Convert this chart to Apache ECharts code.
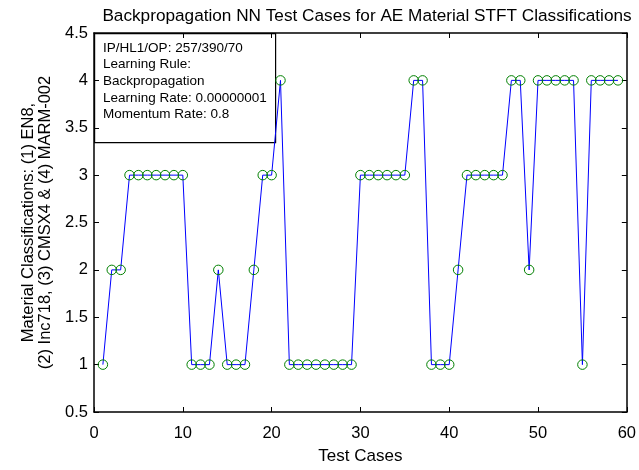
<!DOCTYPE html>
<html>
<head>
<meta charset="utf-8">
<script src="https://cdn.jsdelivr.net/npm/echarts@6/dist/echarts.min.js"></script>
<style>html,body{margin:0;padding:0;background:#fff}#c{width:639px;height:470px}</style>
</head>
<body>
<div id="c"></div>
<script>
const testCases = [1,2,3,4,5,6,7,8,9,10,11,12,13,14,15,16,17,18,19,20,21,22,23,24,25,26,27,28,29,30,31,32,33,34,35,36,37,38,39,40,41,42,43,44,45,46,47,48,49,50,51,52,53,54,55,56,57,58,59];
const classes = [1,2,2,3,3,3,3,3,3,3,1,1,1,2,1,1,1,2,3,3,4,1,1,1,1,1,1,1,1,3,3,3,3,3,3,4,4,1,1,1,2,3,3,3,3,3,4,4,2,4,4,4,4,4,1,4,4,4,4];
const xTicks = [0,10,20,30,40,50,60];
const yTicks = [0.5,1,1.5,2,2.5,3,3.5,4,4.5];
const titleText = 'Backpropagation NN Test Cases for AE Material STFT Classifications';
const xLabel = 'Test Cases';
const yLabel = 'Material Classifications: (1) EN8,\n(2) Inc718, (3) CMSX4 & (4) MARM-002';
const infoLines = ['IP/HL1/OP: 257/390/70','Learning Rule:','Backpropagation','Learning Rate: 0.00000001','Momentum Rate: 0.8'];

const FONT = 'Liberation Sans, Arial, sans-serif';
const chart = echarts.init(document.getElementById('c'), null, {renderer:'canvas'});
const axisLine = {show:true, onZero:false, lineStyle:{color:'#000', width:1.5}};
const tickIn = {show:true, inside:true, length:5, lineStyle:{color:'#000', width:1}};
const data = testCases.map((x,i)=>[x, classes[i]]);
chart.setOption({
  animation:false,
  backgroundColor:'#fff',
  title:{text:titleText, left:362, top:3, textAlign:'center',
    textStyle:{fontFamily:FONT, fontSize:17.2, fontWeight:'normal', color:'#000'}},
  grid:{left:94, right:9, top:33, bottom:53, containLabel:false},
  xAxis:[{type:'value', min:0, max:60, interval:10, position:'bottom',
      name:xLabel, nameLocation:'middle', nameGap:36,
      nameTextStyle:{fontFamily:FONT, fontSize:17, color:'#000'},
      axisLine:axisLine, axisTick:tickIn, splitLine:{show:false},
      axisLabel:{fontFamily:FONT, fontSize:16.5, color:'#000', margin:13,
        formatter:v=>xTicks.includes(v)?String(v):''}},
    {type:'value', min:0, max:60, interval:10, position:'top',
      axisLine:axisLine, axisTick:tickIn, axisLabel:{show:false}, splitLine:{show:false}}],
  yAxis:[{type:'value', min:0.5, max:4.5, interval:0.5, position:'left',
      name:yLabel, nameLocation:'middle', nameGap:38, nameRotate:90,
      nameTextStyle:{fontFamily:FONT, fontSize:16.5, color:'#000', lineHeight:17},
      axisLine:axisLine, axisTick:tickIn, splitLine:{show:false},
      axisLabel:{fontFamily:FONT, fontSize:16.5, color:'#000', margin:6,
        formatter:v=>yTicks.includes(v)?String(v):''}},
    {type:'value', min:0.5, max:4.5, interval:0.5, position:'right',
      axisLine:axisLine, axisTick:tickIn, axisLabel:{show:false}, splitLine:{show:false}}],
  series:[{type:'line', data:data, xAxisIndex:0, yAxisIndex:0,
    lineStyle:{color:'#0000ff', width:1},
    symbol:'circle', symbolSize:9.5, showAllSymbol:true,
    itemStyle:{color:'rgba(0,0,0,0)', borderColor:'#008000', borderWidth:1}}],
  graphic:[{type:'group', left:94, top:33, z:100, children:[
    {type:'rect', shape:{x:0,y:0,width:181,height:109}, style:{fill:'#fff', stroke:'#000', lineWidth:1.2}},
    {type:'text', x:8.5, y:6, style:{text:infoLines.join('\n'), fontFamily:FONT, fontSize:13.5, lineHeight:16.7, fill:'#000'}}
  ]}]
});
</script>
</body>
</html>
